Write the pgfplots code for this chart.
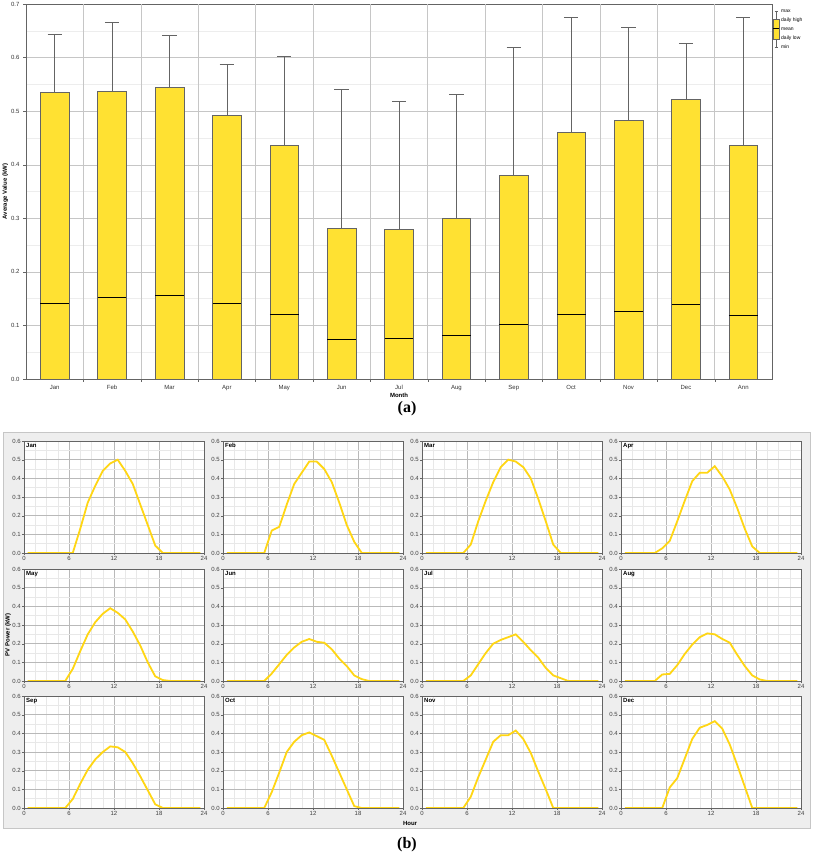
\documentclass[border=0pt]{standalone}
\usepackage{pgfplots}
\pgfplotsset{compat=1.18}
\usepgfplotslibrary{statistics}
\usepackage{pgfplotstable}
\usepackage{fontspec}
\setmainfont{Liberation Sans}
\newfontfamily\serifbf{Liberation Serif}

\definecolor{boxyellow}{RGB}{255,225,50}
\definecolor{curveyellow}{RGB}{255,214,20}
\definecolor{panelbg}{RGB}{238,238,238}
\definecolor{framegray}{RGB}{100,100,100}

\pgfplotstableread{
h    jan   feb   mar   apr   may   jun   jul   aug   sep   oct   nov   dec
0.5  0     0     0     0     0     0     0     0     0     0     0     0
1.5  0     0     0     0     0     0     0     0     0     0     0     0
2.5  0     0     0     0     0     0     0     0     0     0     0     0
3.5  0     0     0     0     0     0     0     0     0     0     0     0
4.5  0     0     0     0     0     0     0     0     0     0     0     0
5.5  0     0     0     0.025 0     0     0     0.035 0     0     0     0
6.5  0     0.12  0.045 0.065 0.065 0.04  0.03  0.038 0.048 0.085 0.06  0.11
7.5  0.13  0.14  0.17  0.17  0.16  0.09  0.09  0.085 0.13  0.19  0.165 0.16
8.5  0.27  0.26  0.28  0.28  0.25  0.14  0.15  0.145 0.205 0.30  0.26  0.265
9.5  0.36  0.37  0.38  0.385 0.315 0.18  0.20  0.195 0.26  0.355 0.355 0.37
10.5 0.44  0.43  0.46  0.43  0.36  0.21  0.22  0.235 0.30  0.39  0.39  0.43
11.5 0.48  0.49  0.50  0.43  0.39  0.225 0.235 0.255 0.33  0.405 0.39  0.445
12.5 0.50  0.49  0.49  0.465 0.365 0.21  0.25  0.25  0.325 0.385 0.415 0.465
13.5 0.44  0.45  0.46  0.41  0.33  0.205 0.21  0.225 0.30  0.365 0.37  0.425
14.5 0.37  0.38  0.40  0.34  0.265 0.17  0.165 0.205 0.24  0.28  0.295 0.34
15.5 0.26  0.27  0.29  0.24  0.19  0.12  0.125 0.14  0.17  0.19  0.195 0.23
16.5 0.15  0.15  0.17  0.13  0.10  0.08  0.07  0.08  0.095 0.10  0.10  0.115
17.5 0.04  0.06  0.045 0.035 0.025 0.03  0.03  0.03  0.02  0.01  0     0
18.5 0     0     0     0     0.005 0.01  0.015 0.008 0     0     0     0
19.5 0     0     0     0     0     0     0     0     0     0     0     0
20.5 0     0     0     0     0     0     0     0     0     0     0     0
21.5 0     0     0     0     0     0     0     0     0     0     0     0
22.5 0     0     0     0     0     0     0     0     0     0     0     0
23.5 0     0     0     0     0     0     0     0     0     0     0     0
}\pv

\pgfplotsset{
  mybox/.style={
    solid, draw=framegray,
    boxplot/box extend=0.5,
    boxplot/whisker extend=0.25,
    boxplot/every box/.style={draw=framegray, fill=boxyellow, line width=0.6pt},
    boxplot/every median/.style={black, line width=1.1pt},
    boxplot/every whisker/.style={draw=framegray, line width=0.6pt},
  },
  panel/.style={
    scale only axis, width=180pt, height=112pt, anchor=south west,
    xmin=0, xmax=24, ymin=0, ymax=0.6,
    xtick={0,6,12,18,24}, ytick={0,0.1,0.2,0.3,0.4,0.5,0.6},
    minor x tick num=3, minor y tick num=1,
    grid=both, major grid style={gray!55}, minor grid style={gray!18},
    axis line style={framegray},
    tick pos=left,
    tick style={framegray}, tick align=outside,
    major tick length=2pt, minor tick length=0pt,
    ticklabel style={font=\fontsize{6}{7}\selectfont, text=black!75},
    yticklabel style={/pgf/number format/fixed, /pgf/number format/fixed zerofill, /pgf/number format/precision=1},
    yticklabel style={inner sep=1pt},
    xticklabel style={inner sep=1pt},
    /pgf/number format/assume math mode=true,
    axis background/.style={fill=white},
  },
}

\newcommand\panel[4]{%
  \begin{axis}[panel, at={(#1pt,#2pt)}]
    \addplot[curveyellow, line width=1.8pt] table[x=h, y=#3] {\pv};
    \node[anchor=north west, inner sep=2pt, font=\fontsize{6}{7}\selectfont\bfseries] at (rel axis cs:0,1) {#4};
  \end{axis}%
}

\begin{document}
\begin{tikzpicture}[x=1pt, y=1pt]
\useasboundingbox (0,0) rectangle (813,859);

% ---------- (a) box chart ----------
\begin{axis}[
  scale only axis, width=746pt, height=375pt,
  at={(26pt,480pt)}, anchor=south west,
  xmin=-0.5, xmax=12.5, ymin=0, ymax=0.7,
  xtick={0,...,12},
  xticklabels={Jan,Feb,Mar,Apr,May,Jun,Jul,Aug,Sep,Oct,Nov,Dec,Ann},
  ytick={0,0.1,0.2,0.3,0.4,0.5,0.6,0.7},
  minor y tick num=1,
  ymajorgrids, yminorgrids,
  major grid style={gray!45}, minor grid style={gray!14},
  tick pos=left,
  xtick style={draw=none},
  extra x ticks={0.5,1.5,2.5,3.5,4.5,5.5,6.5,7.5,8.5,9.5,10.5,11.5},
  extra x tick labels={},
  extra x tick style={grid=major, xtick style={draw=framegray}},
  axis line style={framegray},
  tick style={framegray}, tick align=outside,
  major tick length=3pt, minor tick length=0pt,
  ticklabel style={font=\fontsize{6}{7}\selectfont, text=black!80},
  yticklabel style={/pgf/number format/fixed, /pgf/number format/fixed zerofill, /pgf/number format/precision=1},
  /pgf/number format/assume math mode=true,
  xlabel={Month}, ylabel={Average Value (kW)},
  label style={font=\fontsize{6}{7}\selectfont\bfseries},
  xlabel style={yshift=11pt},
  ylabel style={yshift=-4pt},
  boxplot/draw direction=y,
]
\addplot[mybox, boxplot prepared={draw position=0,  lower whisker=0, lower quartile=0, median=0.1415, upper quartile=0.536, upper whisker=0.644}] coordinates {};
\addplot[mybox, boxplot prepared={draw position=1,  lower whisker=0, lower quartile=0, median=0.1515, upper quartile=0.537, upper whisker=0.665}] coordinates {};
\addplot[mybox, boxplot prepared={draw position=2,  lower whisker=0, lower quartile=0, median=0.156,  upper quartile=0.545, upper whisker=0.641}] coordinates {};
\addplot[mybox, boxplot prepared={draw position=3,  lower whisker=0, lower quartile=0, median=0.1415, upper quartile=0.4925, upper whisker=0.587}] coordinates {};
\addplot[mybox, boxplot prepared={draw position=4,  lower whisker=0, lower quartile=0, median=0.121,  upper quartile=0.436, upper whisker=0.603}] coordinates {};
\addplot[mybox, boxplot prepared={draw position=5,  lower whisker=0, lower quartile=0, median=0.0736, upper quartile=0.2805, upper whisker=0.5405}] coordinates {};
\addplot[mybox, boxplot prepared={draw position=6,  lower whisker=0, lower quartile=0, median=0.0748, upper quartile=0.279, upper whisker=0.5175}] coordinates {};
\addplot[mybox, boxplot prepared={draw position=7,  lower whisker=0, lower quartile=0, median=0.0804, upper quartile=0.3005, upper whisker=0.5305}] coordinates {};
\addplot[mybox, boxplot prepared={draw position=8,  lower whisker=0, lower quartile=0, median=0.101,  upper quartile=0.381, upper whisker=0.6185}] coordinates {};
\addplot[mybox, boxplot prepared={draw position=9,  lower whisker=0, lower quartile=0, median=0.1197, upper quartile=0.4613, upper whisker=0.675}] coordinates {};
\addplot[mybox, boxplot prepared={draw position=10, lower whisker=0, lower quartile=0, median=0.1266, upper quartile=0.4825, upper whisker=0.656}] coordinates {};
\addplot[mybox, boxplot prepared={draw position=11, lower whisker=0, lower quartile=0, median=0.1397, upper quartile=0.522, upper whisker=0.6266}] coordinates {};
\addplot[mybox, boxplot prepared={draw position=12, lower whisker=0, lower quartile=0, median=0.1185, upper quartile=0.437, upper whisker=0.675}] coordinates {};
\end{axis}

% legend of (a)
\draw[framegray, line width=0.5pt] (776,848) -- (776,812);
\draw[framegray, line width=0.5pt] (774.5,848) -- (777.5,848);
\draw[framegray, line width=0.5pt] (774.5,812) -- (777.5,812);
\filldraw[fill=boxyellow, draw=framegray, line width=0.5pt] (773,820) rectangle (779,840);
\draw[black, line width=1pt] (773,830) -- (779,830);
\begin{scope}[font=\fontsize{5}{6}\selectfont, inner sep=0pt, anchor=west]
\node[anchor=west] at (781,848) {max};
\node[anchor=west] at (781,839) {daily high};
\node[anchor=west] at (781,830) {mean};
\node[anchor=west] at (781,821) {daily low};
\node[anchor=west] at (781,812) {min};
\end{scope}

\node[font=\serifbf\fontsize{16}{18}\selectfont\bfseries] at (407,450) {(a)};

% ---------- (b) panels ----------
\filldraw[fill=panelbg, draw=gray!45] (3,31) rectangle (810,427);

\panel{24}{306}{jan}{Jan}
\panel{223}{306}{feb}{Feb}
\panel{422}{306}{mar}{Mar}
\panel{621}{306}{apr}{Apr}
\panel{24}{178}{may}{May}
\panel{223}{178}{jun}{Jun}
\panel{422}{178}{jul}{Jul}
\panel{621}{178}{aug}{Aug}
\panel{24}{51}{sep}{Sep}
\panel{223}{51}{oct}{Oct}
\panel{422}{51}{nov}{Nov}
\panel{621}{51}{dec}{Dec}

\node[rotate=90, font=\fontsize{6}{7}\selectfont\bfseries] at (8,224) {PV Power (kW)};
\node[font=\fontsize{6}{7}\selectfont\bfseries] at (410,36) {Hour};

\node[font=\serifbf\fontsize{16}{18}\selectfont\bfseries] at (407,14) {(b)};
\end{tikzpicture}
\end{document}
